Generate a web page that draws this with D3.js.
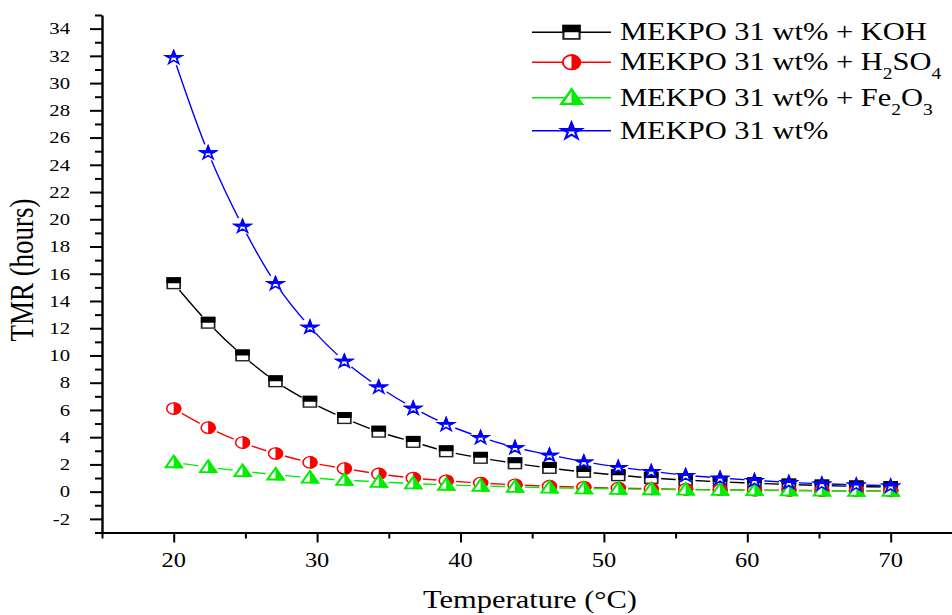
<!DOCTYPE html>
<html><head><meta charset="utf-8">
<script src="https://cdn.jsdelivr.net/npm/d3@7"></script>
<style>
body{margin:0;background:#fff}
svg{display:block}
</style>
</head><body>
<svg id="chart" width="952" height="615"></svg>
<script>
// ---- data ----
const temperatures = [20, 22.4, 24.8, 27.1, 29.5, 31.9, 34.3, 36.7, 39.0, 41.4, 43.8, 46.2, 48.6, 51.0, 53.3, 55.7, 58.1, 60.5, 62.9, 65.2, 67.6, 70];
const tmrKOH   = [15.3, 12.4, 10.0, 8.1, 6.6, 5.4, 4.4, 3.65, 2.96, 2.48, 2.08, 1.74, 1.45, 1.2, 1.0, 0.85, 0.72, 0.62, 0.52, 0.45, 0.38, 0.33];
const tmrH2SO4 = [6.1, 4.7, 3.6, 2.8, 2.15, 1.7, 1.3, 1.0, 0.8, 0.63, 0.5, 0.4, 0.32, 0.26, 0.21, 0.17, 0.14, 0.11, 0.09, 0.07, 0.06, 0.05];
const tmrFe2O3 = [2.15, 1.8, 1.5, 1.25, 1.02, 0.85, 0.71, 0.6, 0.5, 0.42, 0.35, 0.29, 0.24, 0.2, 0.17, 0.14, 0.12, 0.1, 0.08, 0.07, 0.06, 0.05];
const tmrPure  = [31.9, 24.9, 19.5, 15.3, 12.1, 9.6, 7.7, 6.15, 4.95, 4.0, 3.25, 2.7, 2.2, 1.8, 1.5, 1.2, 1.0, 0.83, 0.68, 0.58, 0.5, 0.43];
const xMajorTicks = [20, 30, 40, 50, 60, 70];
const xMinorTicks = [15, 25, 35, 45, 55, 65, 75];
const yMajorTicks = [-2, 0, 2, 4, 6, 8, 10, 12, 14, 16, 18, 20, 22, 24, 26, 28, 30, 32, 34];
const yMinorTicks = [-3, -1, 1, 3, 5, 7, 9, 11, 13, 15, 17, 19, 21, 23, 25, 27, 29, 31, 33, 35];
const xTickLabels = ["20", "30", "40", "50", "60", "70"];
const yTickLabels = ["-2", "0", "2", "4", "6", "8", "10", "12", "14", "16", "18", "20", "22", "24", "26", "28", "30", "32", "34"];
const xTitle = "Temperature (°C)";
const yTitle = "TMR (hours)";

// series table (legend label parts: [text, isSubscript])
const series = [
  {id:"koh",  values: tmrKOH,   color:"#000000", marker:"square",   label:[["MEKPO 31 wt% + KOH",0]]},
  {id:"h2so4",values: tmrH2SO4, color:"#ff0000", marker:"circle",   label:[["MEKPO 31 wt% + H",0],["2",1],["SO",0],["4",1]]},
  {id:"fe2o3",values: tmrFe2O3, color:"#00ee00", marker:"triangle", label:[["MEKPO 31 wt% + Fe",0],["2",1],["O",0],["3",1]]},
  {id:"pure", values: tmrPure,  color:"#0000ff", marker:"star",     label:[["MEKPO 31 wt%",0]]}
];

const SX = 1.22; // horizontal stretch of the original picture
const FONT = "Liberation Serif";
const svg = d3.select("#chart");
const x = d3.scaleLinear().domain([15, 75]).range([102, 962.4]);
const y = d3.scaleLinear().domain([-3, 35]).range([532.5, 15]);

const defs = svg.append("defs");
defs.append("clipPath").attr("id","clipTop").attr("clipPathUnits","userSpaceOnUse")
  .append("rect").attr("x",-20).attr("y",-20).attr("width",40).attr("height",20);
defs.append("clipPath").attr("id","clipRight").attr("clipPathUnits","userSpaceOnUse")
  .append("rect").attr("x",0).attr("y",-20).attr("width",20).attr("height",40);

function starPoints(R){
  const r = R*0.382, pts=[];
  for(let i=0;i<10;i++){
    const a = -Math.PI/2 + i*Math.PI/5, rr = i%2?r:R;
    pts.push([rr*Math.cos(a), rr*Math.sin(a)]);
  }
  return pts.map(p=>p.join(",")).join(" ");
}

function drawMarker(g, type, color){
  if(type==="square"){
    g.append("rect").attr("x",-5.3).attr("y",-5.3).attr("width",10.6).attr("height",10.6)
      .attr("fill","#fff").attr("stroke","#222").attr("stroke-width",1.4);
    g.append("rect").attr("x",-5.3).attr("y",-5.3).attr("width",10.6).attr("height",10.6)
      .attr("fill","#000").attr("stroke","#000").attr("stroke-width",1.4).attr("clip-path","url(#clipTop)");
  } else if(type==="circle"){
    g.append("circle").attr("r",5.7).attr("fill","#fff").attr("stroke",color).attr("stroke-width",1.3);
    g.append("circle").attr("r",5.7).attr("fill",color).attr("stroke",color).attr("stroke-width",1.3).attr("clip-path","url(#clipRight)");
  } else if(type==="triangle"){
    const pts = "0,-6.6 6.6,4.9 -6.6,4.9";
    g.append("polygon").attr("points",pts).attr("fill","#fff").attr("stroke",color).attr("stroke-width",1.8);
    g.append("polygon").attr("points",pts).attr("fill",color).attr("stroke",color).attr("stroke-width",1.8).attr("clip-path","url(#clipRight)");
  } else if(type==="star"){
    const pts = starPoints(6.7);
    g.append("polygon").attr("points",pts).attr("transform","translate(0,0.6)").attr("fill","#fff").attr("stroke",color).attr("stroke-width",1.5);
    g.append("polygon").attr("points",pts).attr("transform","translate(0,0.6)").attr("fill",color).attr("stroke",color).attr("stroke-width",1.5).attr("clip-path","url(#clipTop)");
  }
}

function addText(px, py, str, size, anchor, extra){
  return svg.append("text")
    .attr("transform",`translate(${px},${py}) scale(${SX},1)${extra||""}`)
    .attr("text-anchor",anchor).attr("font-family",FONT).attr("font-size",size).attr("fill","#000")
    .text(str);
}

// ---- axes (lines & ticks via d3.axis, labels as separate serif text) ----
const gx = svg.append("g").attr("transform",`translate(0,${y(-3)})`);
gx.call(d3.axisBottom(x).tickValues(xMajorTicks).tickSize(10).tickSizeOuter(0).tickFormat(""));
gx.select(".domain").attr("stroke-width",2);
gx.selectAll(".tick line").attr("stroke-width",2);
const gxm = svg.append("g").attr("transform",`translate(0,${y(-3)})`);
gxm.call(d3.axisBottom(x).tickValues(xMinorTicks).tickSize(6).tickSizeOuter(0).tickFormat(""));
gxm.select(".domain").remove();
gxm.selectAll(".tick line").attr("stroke-width",2);
xMajorTicks.forEach((v,i)=> addText(x(v), 567, xTickLabels[i], 20, "middle"));

const gy = svg.append("g").attr("transform",`translate(${x(15)},0)`);
gy.call(d3.axisLeft(y).tickValues(yMajorTicks).tickSize(12).tickSizeOuter(0).tickFormat(""));
gy.select(".domain").attr("stroke-width",2.4);
gy.selectAll(".tick line").attr("stroke-width",2);
const gym = svg.append("g").attr("transform",`translate(${x(15)},0)`);
gym.call(d3.axisLeft(y).tickValues(yMinorTicks).tickSize(7).tickSizeOuter(0).tickFormat(""));
gym.select(".domain").remove();
gym.selectAll(".tick line").attr("stroke-width",2);
yMajorTicks.forEach((v,i)=> addText(70, y(v)+5.8, yTickLabels[i], 17, "end"));

// axis titles
addText(530, 608, xTitle, 25, "middle");
addText(33, 270, yTitle, 27, "middle", " rotate(-90)");

// ---- series ----
const line = d3.line().x((d,i)=>x(temperatures[i])).y(d=>y(d)).curve(d3.curveCatmullRom.alpha(0.5));
series.forEach(s=>{
  const m = defs.append("mask").attr("id","mask-"+s.id).attr("maskUnits","userSpaceOnUse")
    .attr("x",0).attr("y",0).attr("width",952).attr("height",615);
  m.append("rect").attr("width",952).attr("height",615).attr("fill","#fff");
  m.selectAll("ellipse").data(s.values).join("ellipse")
    .attr("cx",(d,i)=>x(temperatures[i])).attr("cy",d=>y(d)).attr("rx",10).attr("ry",8.5).attr("fill","#000");
  svg.append("path").datum(s.values).attr("d",line).attr("fill","none")
    .attr("stroke",s.color).attr("stroke-width",1.4).attr("mask",`url(#mask-${s.id})`);
  const gm = svg.append("g");
  gm.selectAll("g").data(s.values).join("g")
    .attr("transform",(d,i)=>`translate(${x(temperatures[i])},${y(d)}) scale(${SX},1)`)
    .each(function(){ drawMarker(d3.select(this), s.marker, s.color); });
});

// ---- legend ----
const legendRows = [32.3, 62.3, 97.7, 130.7];
series.forEach((s,k)=>{
  const ly = legendRows[k];
  svg.append("line").attr("x1",532).attr("x2",611).attr("y1",ly).attr("y2",ly)
    .attr("stroke",s.color).attr("stroke-width",1.4);
  const mg = svg.append("g").attr("transform",`translate(571.5,${ly}) scale(${SX*1.25},1.25)`);
  drawMarker(mg, s.marker, s.color);
  const t = addText(620, ly+8, "", 25, "start");
  let sub = false;
  s.label.forEach(([txt,isSub])=>{
    const ts = t.append("tspan").text(txt);
    if(isSub && !sub){ ts.attr("dy",9).attr("font-size",16); sub=true; }
    else if(isSub){ ts.attr("font-size",16); }
    else if(!isSub && sub){ ts.attr("dy",-9); sub=false; }
  });
});
</script>
</body></html>
